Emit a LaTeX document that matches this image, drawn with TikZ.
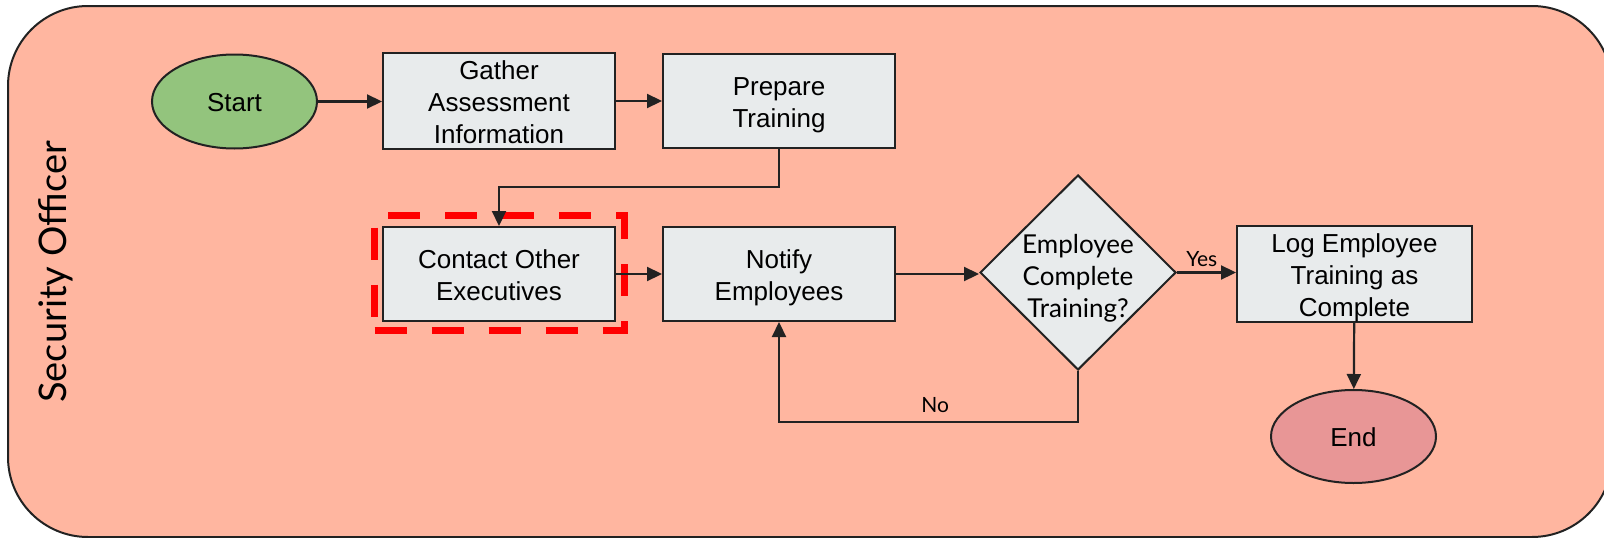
\documentclass[tikz,border=0pt]{standalone}
\usepackage{fontspec}
\setmainfont{Liberation Sans}
\newfontfamily\latofont{Lato}
\usetikzlibrary{shapes.geometric,arrows.meta}
\definecolor{lanefill}{RGB}{255,182,160}
\definecolor{startfill}{RGB}{147,196,125}
\definecolor{endfill}{RGB}{232,150,150}
\definecolor{boxfill}{RGB}{232,235,236}
\definecolor{edgecol}{RGB}{34,34,34}
\definecolor{hlred}{RGB}{255,0,0}
\newcommand{\lstrut}{\rule[-6pt]{0pt}{32pt}}
\newcommand{\tl}[1]{\vbox{\offinterlineskip\halign{\hfil\lstrut##\hfil\cr#1\crcr}}}
\begin{document}
\begin{tikzpicture}[x=1pt,y=-1pt,
  lane/.style={draw=edgecol, line width=2pt, fill=lanefill, rounded corners=80pt},
  lanetitle/.style={rotate=90, inner sep=0pt, font=\latofont\fontsize{38}{44}\selectfont},
  procbox/.style={rectangle, draw=edgecol, line width=2pt, fill=boxfill, minimum width=232pt, minimum height=94pt, inner sep=0pt, font=\fontsize{26}{32}\selectfont},
  terminal/.style={ellipse, draw=edgecol, line width=2pt, minimum width=165pt, minimum height=94pt, inner sep=0pt, font=\fontsize{26}{32}\selectfont},
  decision/.style={diamond, draw=edgecol, line width=2pt, fill=boxfill, minimum width=196pt, minimum height=195pt, inner sep=0pt},
  dtext/.style={inner sep=0pt, font=\latofont\fontsize{26}{32}\selectfont},
  elabel/.style={inner sep=0pt, font=\latofont\fontsize{21}{24}\selectfont},
  hlbox/.style={rectangle, draw=hlred, line width=7pt, dash pattern=on 32pt off 25pt, minimum width=250pt, minimum height=115pt, inner sep=0pt},
  conn/.style={draw=edgecol, line width=2.2pt, -{Triangle[length=15pt,width=14pt]}}
]
\useasboundingbox (0,0) rectangle (1604,538);
\path[lane] (8,6) rectangle (1612,537);
\node[lanetitle] (lanename) at (56,272) {Security Officer};

\node[terminal, fill=startfill] (start) at (234.5,101.5) {\tl{Start}};
\node[procbox] (gather) at (499,101) {\tl{Gather\cr Assessment\cr Information}};
\node[procbox] (prepare) at (779,101) {\tl{Prepare\cr Training}};
\node[procbox] (contact) at (499,274) {\tl{Contact Other\cr Executives}};
\node[hlbox] (highlight) at (499.5,273) {};
\node[procbox] (notify) at (779,274) {\tl{Notify\cr Employees}};
\node[decision, label={[dtext, yshift=-3pt]center:\tl{Employee\cr Complete\cr Training?}}] (dec) at (1078,272.5) {};
\node[procbox, minimum width=235pt] (log) at (1354.5,274) {\tl{Log Employee\cr Training as\cr Complete}};
\node[terminal, fill=endfill, minimum height=93pt] (end) at (1353.5,436.5) {\tl{End}};

\draw[conn] (start.east) -- (start.east -| gather.west);
\draw[conn] (gather) -- (prepare);
\draw[conn] (prepare.south) -- ++(0,38) coordinate (pbend) -| (contact.north);
\draw[conn] (contact) -- (notify);
\draw[conn] (notify.east) -- (notify.east -| dec.west);
\draw[conn] (dec.east) -- (dec.east -| log.west) node[elabel, pos=0.42, above=5pt] (yeslabel) {Yes};
\draw[conn] (log) -- (end);
\draw[conn] (dec.south) -- ++(0,51) coordinate (nbend) -- (nbend -| notify.south) node[elabel, pos=0.478, above=8pt] (nolabel) {No} -- (notify.south);
\end{tikzpicture}
\end{document}
